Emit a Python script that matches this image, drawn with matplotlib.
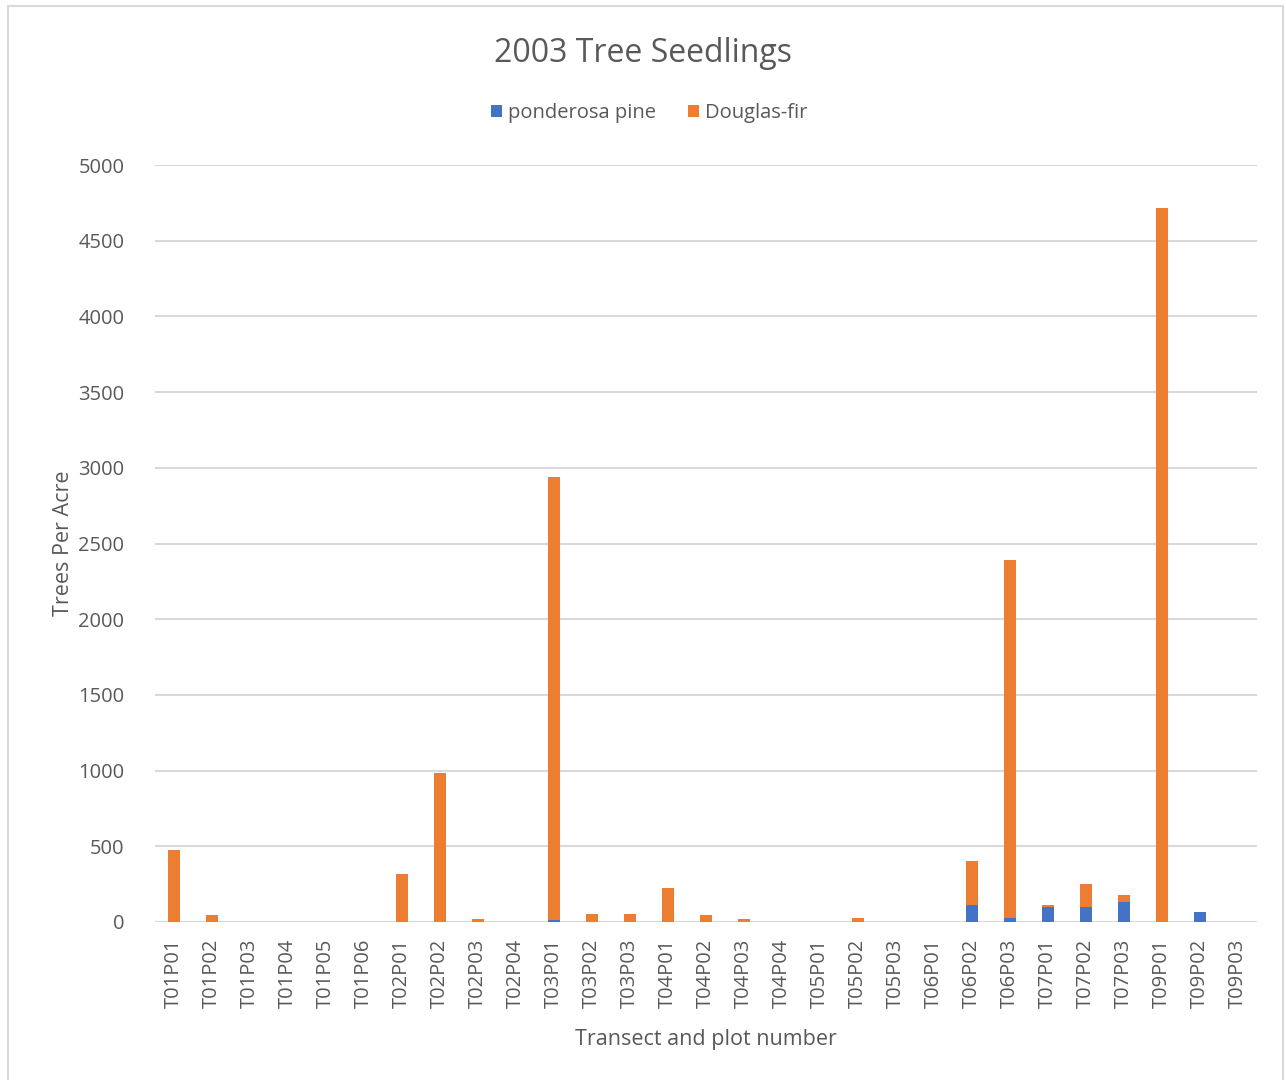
import matplotlib
matplotlib.use("Agg")
import matplotlib.pyplot as plt
import numpy as np
from matplotlib.patches import Rectangle

plots = ['T01P01', 'T01P02', 'T01P03', 'T01P04', 'T01P05', 'T01P06',
         'T02P01', 'T02P02', 'T02P03', 'T02P04',
         'T03P01', 'T03P02', 'T03P03',
         'T04P01', 'T04P02', 'T04P03', 'T04P04',
         'T05P01', 'T05P02', 'T05P03',
         'T06P01', 'T06P02', 'T06P03',
         'T07P01', 'T07P02', 'T07P03',
         'T09P01', 'T09P02', 'T09P03']
ponderosa = [0, 0, 0, 0, 0, 0,
             0, 0, 0, 0,
             11, 0, 0,
             0, 0, 0, 0,
             0, 0, 0,
             0, 112, 27,
             96, 96, 132,
             0, 69, 0]
douglas = [473, 45, 0, 0, 0, 0,
           319, 985, 18, 0,
           2926, 54, 54,
           225, 45, 18, 0,
           0, 27, 0,
           0, 292, 2361,
           16, 154, 49,
           4716, 0, 0]

plt.rcParams['font.family'] = ['Open Sans', 'DejaVu Sans']
grey = '#595959'

def main():
    fig = plt.figure(figsize=(12.86, 10.8), dpi=100)
    fig.patches.append(Rectangle((0.006, -0.01), 0.992, 1.004, transform=fig.transFigure,
                                 fill=False, edgecolor='#D9D9D9', linewidth=1.5))
    ax = fig.add_axes([0.1205, 0.1463, 0.857, 0.7009])

    x = np.arange(len(plots))
    w = 0.3
    ax.bar(x, ponderosa, w, color='#4472C4', label='ponderosa pine', zorder=3)
    ax.bar(x, douglas, w, bottom=ponderosa, color='#ED7D31', label='Douglas-fir', zorder=3)

    ax.set_xlim(-0.5, len(plots) - 0.5)
    ax.set_ylim(0, 5000)
    ax.set_yticks(range(0, 5001, 500))
    ax.set_xticks(x)
    ax.set_xticklabels(plots, rotation=90)
    ax.tick_params(axis='y', length=0, labelsize=14.5, colors=grey, pad=22)
    ax.tick_params(axis='x', length=0, labelsize=14.5, colors=grey, pad=12)
    ax.yaxis.grid(True, color='#D9D9D9', linewidth=1.5, zorder=0)
    for s in ax.spines.values():
        s.set_visible(False)

    ax.set_ylabel('Trees Per Acre', fontsize=15.5, color=grey, labelpad=3)
    ax.set_xlabel('Transect and plot number', fontsize=15.5, color=grey, labelpad=15)
    fig.suptitle('2003 Tree Seedlings', fontsize=23, color=grey, y=0.966)
    fig.legend(loc='center', bbox_to_anchor=(0.505, 0.895), ncol=2, frameon=False,
               fontsize=14.5, labelcolor=grey, handlelength=0.55, handleheight=0.55,
               handletextpad=0.3, columnspacing=1.6)

    fig.savefig('out.png', dpi=100)

if __name__ == '__main__':
    main()
